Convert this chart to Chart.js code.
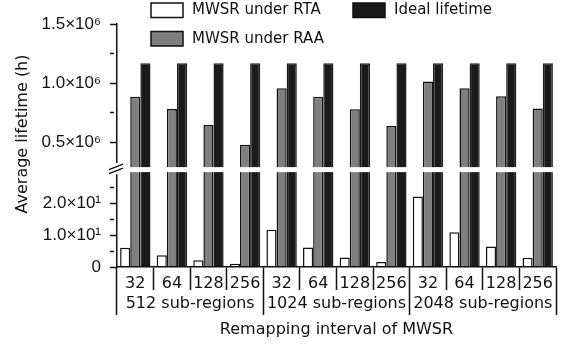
<!DOCTYPE html>
<html>
<head>
<meta charset="utf-8">
<script src="https://cdn.jsdelivr.net/npm/chart.js@4/dist/chart.umd.min.js"></script>
<style>
  html, body { margin: 0; padding: 0; background: #ffffff; }
  #wrap { width: 562px; height: 344px; position: relative; }
</style>
</head>
<body>
<div id="wrap"><canvas id="chart"></canvas></div>
<script>
// Remapping interval of each bar (x categories) and the sub-region groups under them
const intervals = ['32', '64', '128', '256', '32', '64', '128', '256', '32', '64', '128', '256'];
const regionGroups = ['512 sub-regions', '1024 sub-regions', '2048 sub-regions'];

// Average lifetime in hours
const rtaLifetime   = [6.1, 3.7, 2.1, 1.0, 11.8, 6.2, 3.0, 1.6, 22.3, 11.0, 6.5, 2.9];
const raaLifetime   = [0.887e6, 0.783e6, 0.648e6, 0.480e6, 0.958e6, 0.887e6, 0.781e6, 0.640e6,
                       1.014e6, 0.958e6, 0.890e6, 0.786e6];
const idealLifetime = [1.168e6, 1.168e6, 1.168e6, 1.168e6, 1.168e6, 1.168e6, 1.168e6, 1.168e6,
                       1.168e6, 1.168e6, 1.168e6, 1.168e6];

const seriesNames = ['MWSR under RTA', 'MWSR under RAA', 'Ideal lifetime'];

// Broken y axis: upper (×10^6) and lower (×10^1) sections
const upperTickValues = [0.5e6, 0.75e6, 1.0e6, 1.25e6, 1.5e6];
const upperTickLabels = ['0.5×10⁶', '', '1.0×10⁶', '', '1.5×10⁶'];
const lowerTickValues = [0, 5, 10, 15, 20, 25];
const lowerTickLabels = ['0', '', '1.0×10¹', '', '2.0×10¹', ''];

const FONT = "'DejaVu Sans', 'Liberation Sans', sans-serif";
const TICK_FONT = "'Liberation Sans', 'DejaVu Sans', sans-serif";
const INK = '#111111';
const FILLS = ['#ffffff', '#7f7f7f', '#1a1a1a'];

function barSet(label, data, fill, yAxisID, stack) {
  return {
    label, data, yAxisID, stack,
    backgroundColor: fill,
    borderColor: fill === FILLS[2] ? FILLS[2] : INK,
    borderWidth: 1.5,
    borderSkipped: 'start',
    categoryPercentage: 0.83,
    barPercentage: 1.0
  };
}

// each series is drawn once per y section; the shared stack id keeps them in the same slot
const datasets = [
  barSet(seriesNames[0], rtaLifetime,   FILLS[0], 'yLo', 'rta'),
  barSet(seriesNames[1], raaLifetime,   FILLS[1], 'yLo', 'raa'),
  barSet(seriesNames[2], idealLifetime, FILLS[2], 'yLo', 'ideal'),
  barSet(seriesNames[1], raaLifetime,   FILLS[1], 'yHi', 'raa'),
  barSet(seriesNames[2], idealLifetime, FILLS[2], 'yHi', 'ideal')
];

// keep each dataset inside its own y section
const sectionClip = {
  id: 'sectionClip',
  beforeDatasetDraw(chart, args) {
    const s = chart.scales[args.meta.yAxisID];
    const { ctx, chartArea } = chart;
    ctx.save();
    ctx.beginPath();
    ctx.rect(chartArea.left, s.top, chartArea.right - chartArea.left, s.bottom - s.top + 2);
    ctx.clip();
  },
  afterDatasetDraw(chart) {
    chart.ctx.restore();
  }
};

// white gap across the bars and the "//" break marks on the y axis
const axisBreak = {
  id: 'axisBreak',
  afterDatasetsDraw(chart) {
    const { ctx, chartArea, scales: { yHi } } = chart;
    const yb = yHi.bottom;
    const ax = chartArea.left;
    ctx.save();
    ctx.fillStyle = '#ffffff';
    ctx.fillRect(ax + 1, yb - 5, chartArea.right - ax, 5);
    ctx.fillRect(ax - 6, yb - 9, 12, 11);
    ctx.strokeStyle = INK;
    ctx.lineWidth = 1.4;
    ctx.beginPath();
    ctx.moveTo(ax - 8, yb - 2.5); ctx.lineTo(ax + 6, yb - 8);
    ctx.moveTo(ax - 8, yb + 1.5); ctx.lineTo(ax + 6, yb - 4);
    ctx.stroke();
    ctx.restore();
  }
};

// two-column legend laid over the top of the plot, plus the shared y title
const annotations = {
  id: 'annotations',
  afterDraw(chart) {
    const { ctx } = chart;
    const entries = [
      { name: seriesNames[0], fill: FILLS[0], x: 151, y: 3 },
      { name: seriesNames[1], fill: FILLS[1], x: 151, y: 31.5 },
      { name: seriesNames[2], fill: FILLS[2], x: 353, y: 3 }
    ];
    ctx.save();
    ctx.font = '15px ' + FONT;
    ctx.textBaseline = 'middle';
    ctx.textAlign = 'left';
    for (const e of entries) {
      ctx.fillStyle = e.fill;
      ctx.fillRect(e.x, e.y, 32, 14.5);
      ctx.strokeStyle = INK;
      ctx.lineWidth = 1.5;
      ctx.strokeRect(e.x, e.y, 32, 14.5);
      ctx.fillStyle = INK;
      ctx.fillText(e.name, e.x + 41, e.y + 7.5);
    }
    ctx.font = '16px ' + FONT;
    ctx.translate(23, 134);
    ctx.rotate(-Math.PI / 2);
    ctx.textAlign = 'center';
    ctx.fillText('Average lifetime (h)', 0, 0);
    ctx.restore();
  }
};

function tickSetup(values, labels) {
  return {
    afterBuildTicks(scale) { scale.ticks = values.map(v => ({ value: v })); },
    ticks: {
      autoSkip: false,
      padding: 9,
      color: INK,
      font: { family: TICK_FONT, size: 17 },
      callback: (v) => labels[values.indexOf(v)]
    },
    grid: {
      drawOnChartArea: false,
      tickLength: 7,
      tickWidth: 1.5,
      tickColor: INK,
      // unlabelled (minor) ticks are drawn shorter
      tickBorderDash: (c) => (c.tick && labels[values.indexOf(c.tick.value)] === '' ? [4, 20] : [])
    }
  };
}

const upperTicks = tickSetup(upperTickValues, upperTickLabels);
const lowerTicks = tickSetup(lowerTickValues, lowerTickLabels);

new Chart(document.getElementById('chart'), {
  type: 'bar',
  data: { labels: intervals, datasets },
  plugins: [sectionClip, axisBreak, annotations],
  options: {
    responsive: true,
    maintainAspectRatio: false,
    animation: false,
    events: [],
    layout: { padding: { left: 0, right: 6, top: 24, bottom: 0 } },
    plugins: { legend: { display: false }, tooltip: { enabled: false } },
    scales: {
      x: {
        type: 'category',
        position: 'bottom',
        weight: 0,
        offset: true,
        afterFit(scale) { scale.height = 23; },
        border: { display: true, color: INK, width: 1.5, z: 1 },
        grid: { offset: true, drawOnChartArea: false, tickLength: 23, tickWidth: 1.5, tickColor: INK },
        ticks: { autoSkip: false, maxRotation: 0, minRotation: 0, padding: -16, color: INK,
                 font: { family: FONT, size: 16 } }
      },
      x2: {
        type: 'category',
        position: 'bottom',
        weight: 1,
        labels: regionGroups,
        offset: true,
        afterFit(scale) { scale.height = 54; },
        border: { display: false },
        grid: { offset: true, drawOnChartArea: false, tickLength: 25, tickWidth: 1.5, tickColor: INK },
        ticks: { autoSkip: false, maxRotation: 0, minRotation: 0, padding: -21, color: INK,
                 font: { family: FONT, size: 16 } },
        title: { display: true, text: 'Remapping interval of MWSR', color: INK,
                 font: { family: FONT, size: 16 }, padding: { top: 0, bottom: 5 } }
      },
      yHi: {
        type: 'linear',
        position: 'left',
        stack: 'lifetime',
        stackWeight: 148.3,
        weight: 1,
        min: 0.25e6,
        max: 1.5e6,
        stacked: false,
        afterFit(scale) { scale.width = 117; },
        border: { display: true, color: INK, width: 1.5 },
        ...upperTicks
      },
      yLo: {
        type: 'linear',
        position: 'left',
        stack: 'lifetime',
        stackWeight: 95,
        weight: 0,
        min: 0,
        max: 30,
        stacked: false,
        afterFit(scale) { scale.width = 117; },
        border: { display: true, color: INK, width: 1.5 },
        ...lowerTicks
      }
    }
  }
});
</script>
</body>
</html>
